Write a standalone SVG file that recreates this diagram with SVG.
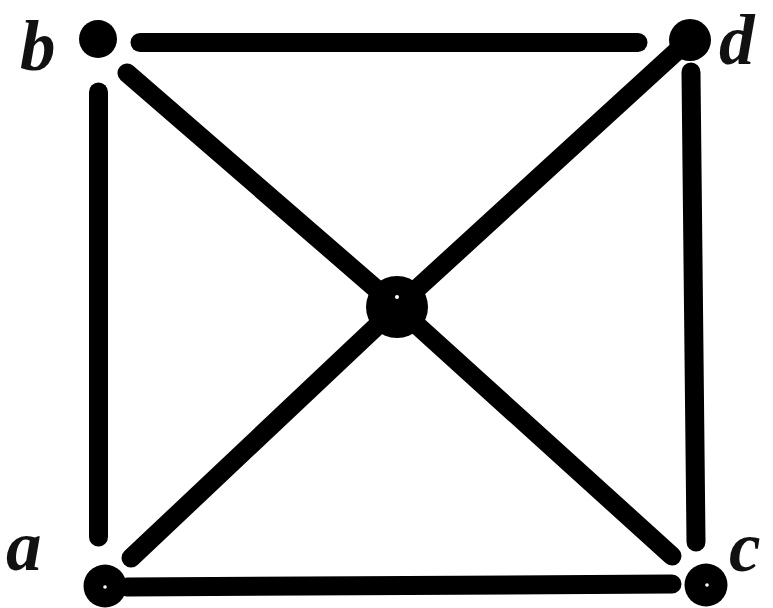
<svg xmlns="http://www.w3.org/2000/svg" width="773" height="608" viewBox="0 0 773 608">
<style>
.e{stroke:#000;stroke-width:19;stroke-linecap:round;fill:none}
.n{fill:#000}
.h{fill:#fff}
.l{font-family:"Liberation Serif","Times New Roman",serif;font-weight:bold;font-style:italic;font-size:71px;fill:#111}
</style>
<rect width="773" height="608" fill="#fff"/>
<g id="edges">
<line class="e" x1="140" y1="42.5" x2="638" y2="42.5"/>
<line class="e" x1="98.5" y1="92" x2="98.5" y2="537"/>
<line class="e" x1="691" y1="72" x2="696" y2="542"/>
<line class="e" x1="127" y1="587" x2="672" y2="584"/>
<line class="e" x1="127" y1="73" x2="397" y2="307"/>
<line class="e" x1="678" y1="50" x2="397" y2="307"/>
<line class="e" x1="131" y1="558" x2="397" y2="307"/>
<line class="e" x1="672" y1="556" x2="397" y2="307"/>
</g>
<g id="node-b"><circle class="n" cx="98" cy="39" r="19"/><text class="l" x="20" y="70">b</text></g>
<g id="node-d"><circle class="n" cx="690" cy="40" r="21"/><text class="l" x="719" y="64">d</text></g>
<g id="node-a"><circle class="n" cx="105" cy="586" r="21.5"/><circle class="h" cx="105" cy="587" r="1.8"/><text class="l" x="6" y="570">a</text></g>
<g id="node-c"><circle class="n" cx="706" cy="585" r="21.5"/><circle class="h" cx="707" cy="585" r="1.8"/><text class="l" x="729" y="571">c</text></g>
<g id="node-center"><circle class="n" cx="397" cy="307" r="31"/><circle class="h" cx="397" cy="297" r="2"/></g>
</svg>
